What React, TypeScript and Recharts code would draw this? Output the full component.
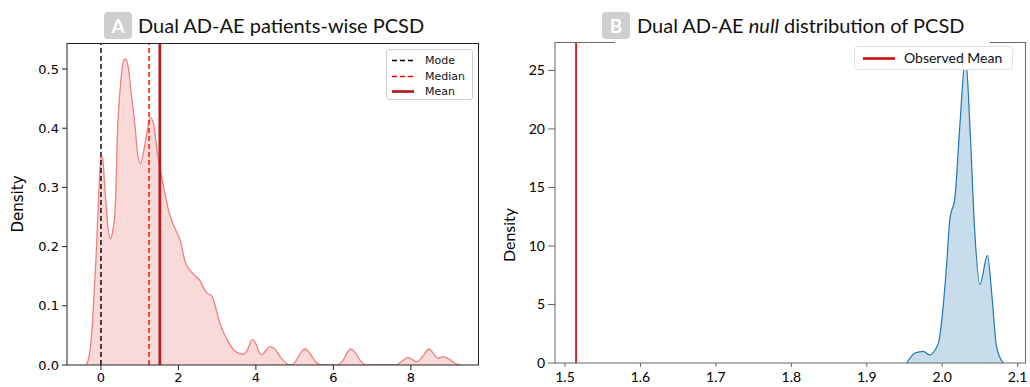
import React from 'react';
import { ComposedChart, Area, XAxis, YAxis, ReferenceLine } from 'recharts';

// ---- Panel A: patient-wise PCSD density (KDE) ----
const kdeAX = [
  -0.39, -0.33, -0.28, -0.22, -0.17, -0.13, -0.06, 0.0, 0.04, 0.1, 0.17, 0.24, 0.3, 0.37, 0.43, 0.5, 0.57, 0.63,
  0.7, 0.78, 0.885, 0.95, 1.02, 1.1, 1.18, 1.27, 1.35, 1.45, 1.56, 1.65, 1.75, 1.85, 1.95, 2.05, 2.17, 2.3, 2.45,
  2.56, 2.65, 2.75, 2.85, 2.95, 3.05, 3.15, 3.3, 3.42, 3.55, 3.68, 3.78, 3.9, 4.0, 4.08, 4.15, 4.25, 4.37, 4.5,
  4.65, 4.8, 4.9, 5.0, 5.15, 5.27, 5.4, 5.55, 5.7, 6.1, 6.25, 6.37, 6.45, 6.55, 6.7, 6.85, 7.6, 7.75, 7.92, 8.02,
  8.15, 8.3, 8.47, 8.58, 8.7, 8.82, 8.9, 9.05, 9.2, 9.28,
];
const kdeAY = [
  0, 0.008, 0.026, 0.07, 0.13, 0.178, 0.285, 0.352, 0.35, 0.3, 0.24, 0.213, 0.225, 0.268, 0.4, 0.47, 0.51, 0.517,
  0.505, 0.46, 0.4, 0.355, 0.34, 0.36, 0.39, 0.418, 0.41, 0.36, 0.32, 0.29, 0.26, 0.24, 0.225, 0.21, 0.175, 0.16, 0.15,
  0.142, 0.13, 0.121, 0.118, 0.1, 0.075, 0.057, 0.038, 0.026, 0.02, 0.018, 0.025, 0.043, 0.036, 0.022, 0.017, 0.024, 0.031, 0.026,
  0.012, 0.002, 0, 0.004, 0.02, 0.027, 0.019, 0.005, 0, 0, 0.008, 0.022, 0.027, 0.022, 0.007, 0, 0, 0.005, 0.013, 0.01,
  0.005, 0.014, 0.027, 0.02, 0.011, 0.014, 0.013, 0.007, 0.001, 0,
];
const statMode = 0;
const statMedian = 1.24;
const statMean = 1.52;
const ticksAX = [0, 2, 4, 6, 8];
const ticksAY = [0, 0.1, 0.2, 0.3, 0.4, 0.5];
const domainAX = [-0.877, 9.76];
const domainAY = [0, 0.544];

// ---- Panel B: null distribution of PCSD ----
const kdeBX = [
  1.953, 1.964, 1.975, 1.983, 1.995, 1.999, 2.006, 2.01, 2.017, 2.023, 2.031, 2.037, 2.043, 2.05, 2.06, 2.066, 2.072, 2.081,
];
const kdeBY = [0, 0.85, 1.0, 0.7, 1.7, 3.4, 8.5, 12.2, 14.2, 19.9, 26.1, 19.9, 11.4, 6.7, 9.2, 5.7, 1.4, 0];
const observedMean = 1.5146;
const ticksBX = [1.5, 1.6, 1.7, 1.8, 1.9, 2.0, 2.1];
const ticksBY = [0, 5, 10, 15, 20, 25];
const domainBX = [1.4867, 2.1111];
const domainBY = [0, 27.43];

const dataA = kdeAX.map((x, i) => ({ x, y: kdeAY[i] }));
const dataB = kdeBX.map((x, i) => ({ x, y: kdeBY[i] }));

const abs = (s: React.CSSProperties): React.CSSProperties => ({ position: 'absolute', ...s });

const Badge = ({ left, letter }: { left: number; letter: string }) => (
  <div
    style={abs({
      left,
      top: 12,
      width: 28,
      height: 27,
      background: '#cfcfcf',
      borderRadius: 4,
      color: '#fff',
      fontFamily: 'Lato',
      fontWeight: 700,
      fontSize: 19,
      lineHeight: '27px',
      textAlign: 'center',
    })}
  >
    {letter}
  </div>
);

export default function App() {
  const leftTick = { fontFamily: 'DejaVu Sans', fontSize: 13, fill: '#000' };
  const rightTick = { fontFamily: 'Lato', fontSize: 14, fill: '#000' };
  return (
    <div style={abs({ left: 0, top: 0, width: 1030, height: 387, background: '#fff', overflow: 'hidden' })}>
      {/* Panel A */}
      <div style={abs({ left: 0, top: 0 })}>
        <ComposedChart width={490} height={387} data={dataA} margin={{ top: 43, right: 11, left: 0, bottom: 0 }}>
          <XAxis
            dataKey="x"
            type="number"
            domain={domainAX}
            ticks={ticksAX}
            height={22}
            tickSize={5}
            tickMargin={3}
            stroke="#222"
            tick={leftTick}
            allowDataOverflow
          />
          <YAxis
            type="number"
            domain={domainAY}
            ticks={ticksAY}
            width={67}
            tickSize={5}
            tickMargin={3}
            stroke="#222"
            tick={leftTick}
            tickFormatter={(v: number) => v.toFixed(1)}
            allowDataOverflow
          />
          <Area
            type="monotone"
            dataKey="y"
            stroke="#f08080"
            strokeWidth={1.3}
            fill="#f08080"
            fillOpacity={0.3}
            isAnimationActive={false}
            dot={false}
            activeDot={false}
          />
          <ReferenceLine x={statMode} stroke="#000" strokeWidth={1.4} strokeDasharray="5 3" />
          <ReferenceLine x={statMedian} stroke="#ff0000" strokeWidth={1.4} strokeDasharray="5 3" />
          <ReferenceLine x={statMean} stroke="#b22222" strokeWidth={2.8} />
        </ComposedChart>
      </div>
      <div style={abs({ left: 67, top: 43, width: 412, height: 322, borderTop: '1px solid #222', borderRight: '1px solid #222', boxSizing: 'border-box', pointerEvents: 'none' })} />

      {/* Legend A */}
      <div
        style={abs({
          left: 386,
          top: 49,
          width: 87,
          height: 51,
          border: '1px solid #d0d0d0',
          borderRadius: 3,
          background: 'rgba(255,255,255,0.85)',
          boxSizing: 'border-box',
          fontFamily: 'DejaVu Sans',
          fontSize: 11,
          color: '#111',
        })}
      >
        {[
          { label: 'Mode', color: '#000', dash: '5 3', w: 1.4 },
          { label: 'Median', color: '#ff0000', dash: '5 3', w: 1.4 },
          { label: 'Mean', color: '#b22222', dash: '', w: 2.8 },
        ].map((e, i) => (
          <div key={e.label} style={abs({ left: 5, top: 3 + i * 15.5, height: 15, width: 80 })}>
            <svg width={22} height={15} style={{ position: 'absolute', left: 0, top: 0 }}>
              <line x1={0} x2={22} y1={7.5} y2={7.5} stroke={e.color} strokeWidth={e.w} strokeDasharray={e.dash || undefined} />
            </svg>
            <span style={abs({ left: 33, top: 0, lineHeight: '15px' })}>{e.label}</span>
          </div>
        ))}
      </div>

      {/* Title A */}
      <Badge left={104} letter="A" />
      <div style={abs({ left: 138, top: 12.5, fontFamily: 'Lato', fontSize: 20, lineHeight: '24px', color: '#111', whiteSpace: 'nowrap' })}>
        Dual AD-AE patients-wise PCSD
      </div>
      <div
        style={abs({
          left: 17.5,
          top: 204,
          transform: 'translate(-50%, -50%) rotate(-90deg)',
          fontFamily: 'DejaVu Sans',
          fontSize: 15,
          color: '#000',
          whiteSpace: 'nowrap',
        })}
      >
        Density
      </div>

      {/* Panel B */}
      <div style={abs({ left: 490, top: 0 })}>
        <ComposedChart width={540} height={387} data={dataB} margin={{ top: 42, right: 4, left: 0, bottom: 0 }}>
          <XAxis
            dataKey="x"
            type="number"
            domain={domainBX}
            ticks={ticksBX}
            height={24}
            tickSize={4}
            tickMargin={5}
            stroke="#666"
            tick={rightTick}
            tickFormatter={(v: number) => v.toFixed(1)}
            allowDataOverflow
          />
          <YAxis
            type="number"
            domain={domainBY}
            ticks={ticksBY}
            width={65}
            tickSize={7}
            tickMargin={3}
            stroke="#666"
            tick={rightTick}
            allowDataOverflow
          />
          <Area
            type="monotone"
            dataKey="y"
            stroke="#1f77b4"
            strokeWidth={1.2}
            fill="#1f77b4"
            fillOpacity={0.25}
            isAnimationActive={false}
            dot={false}
            activeDot={false}
          />
          <ReferenceLine x={observedMean} stroke="#cc0000" strokeWidth={1.6} />
        </ComposedChart>
      </div>
      <div style={abs({ left: 1025, top: 42, width: 0, height: 321, borderRight: '1px solid #666', pointerEvents: 'none' })} />
      <div style={abs({ left: 555, top: 42, width: 60, height: 0, borderTop: '1px solid #666' })} />
      <div style={abs({ left: 990, top: 42, width: 36, height: 0, borderTop: '1px solid #666' })} />

      {/* Legend B */}
      <div
        style={abs({
          left: 854,
          top: 46,
          width: 159,
          height: 24,
          border: '1px solid #e0e0e0',
          borderRadius: 4,
          background: '#fff',
          boxSizing: 'border-box',
          fontFamily: 'Lato',
          fontSize: 14,
          color: '#111',
        })}
      >
        <svg width={32} height={22} style={{ position: 'absolute', left: 8, top: 0 }}>
          <line x1={0} x2={32} y1={11.5} y2={11.5} stroke="#cc0000" strokeWidth={2.5} />
        </svg>
        <span style={abs({ left: 49, top: 0, lineHeight: '22px', whiteSpace: 'nowrap' })}>Observed Mean</span>
      </div>

      {/* Title B */}
      <Badge left={602} letter="B" />
      <div style={abs({ left: 637, top: 12.5, fontFamily: 'Lato', fontSize: 20, lineHeight: '24px', color: '#111', whiteSpace: 'nowrap' })}>
        Dual AD-AE <i>null</i> distribution of PCSD
      </div>
      <div
        style={abs({
          left: 508,
          top: 235,
          transform: 'translate(-50%, -50%) rotate(-90deg)',
          fontFamily: 'Lato',
          fontSize: 16,
          color: '#000',
          whiteSpace: 'nowrap',
        })}
      >
        Density
      </div>
    </div>
  );
}
